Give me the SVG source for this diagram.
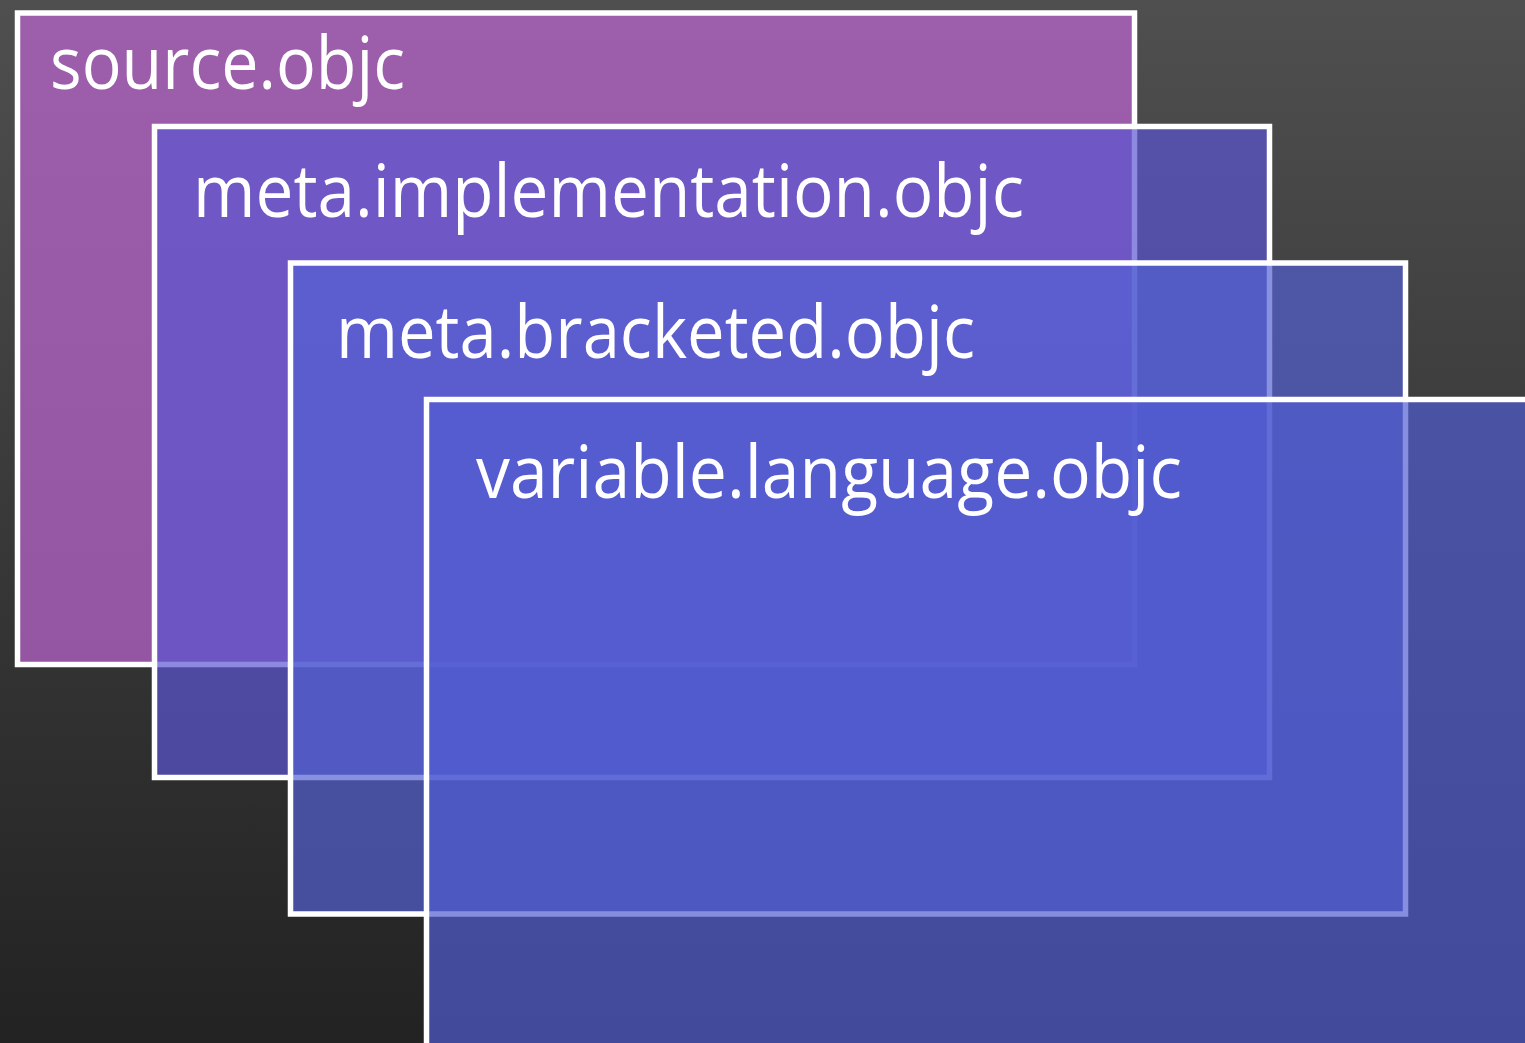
<svg xmlns="http://www.w3.org/2000/svg" width="1525" height="1043" viewBox="0 0 1525 1043">
  <defs>
    <linearGradient id="bg" x1="0" y1="0" x2="0" y2="1">
      <stop offset="0" stop-color="#4f4f4f"/>
      <stop offset="1" stop-color="#222222"/>
    </linearGradient>
  </defs>
  <style>
    .box { stroke: #ffffff; stroke-width: 5.5; fill-opacity: 0.694; }
    .label { font-family: "Open Sans", "Liberation Sans", sans-serif; font-size: 73px; fill: #ffffff; }
  </style>
  <rect x="0" y="0" width="1525" height="1043" fill="url(#bg)"/>
  <g id="source-objc">
    <rect class="box" x="17.5" y="13" width="1117" height="651.5" fill="#c065d4"/>
    <text class="label" x="50" y="89" textLength="355" lengthAdjust="spacingAndGlyphs">source.objc</text>
  </g>
  <g id="meta-implementation-objc">
    <rect class="box" x="154.5" y="126.5" width="1115" height="651" fill="#5c55d2"/>
    <text class="label" x="193" y="217" textLength="831" lengthAdjust="spacingAndGlyphs">meta.implementation.objc</text>
  </g>
  <g id="meta-bracketed-objc">
    <rect class="box" x="290.5" y="263" width="1115" height="651" fill="#5460d3"/>
    <text class="label" x="336" y="358" textLength="639" lengthAdjust="spacingAndGlyphs">meta.bracketed.objc</text>
  </g>
  <g id="variable-language-objc">
    <rect class="box" x="426.5" y="399.5" width="1115" height="651" fill="#515cd1"/>
    <text class="label" x="476" y="498" textLength="706" lengthAdjust="spacingAndGlyphs">variable.language.objc</text>
  </g>
</svg>
